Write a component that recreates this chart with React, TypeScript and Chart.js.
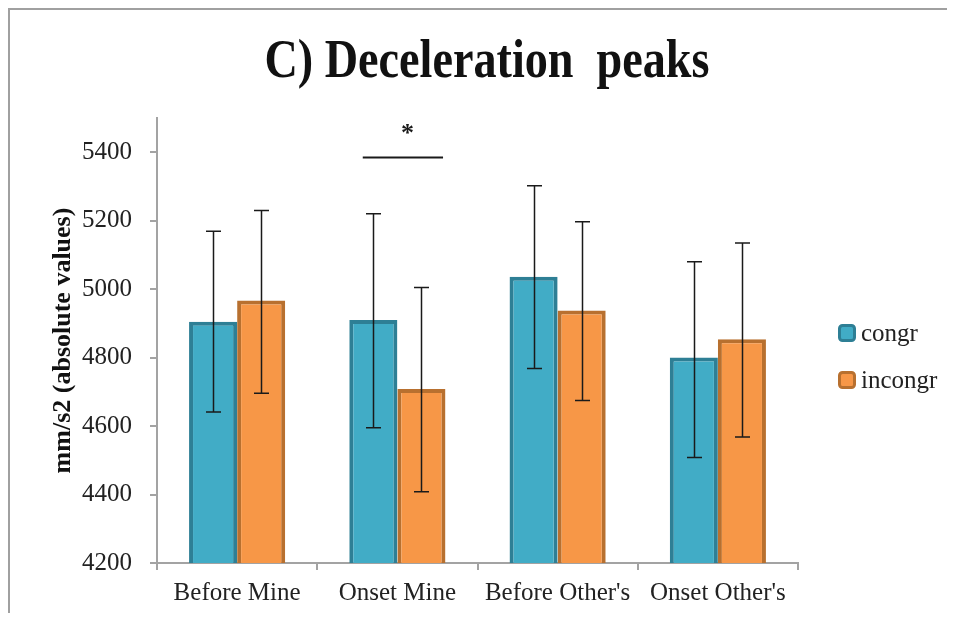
import React, { useEffect, useRef } from "react";
import { Chart, registerables } from "chart.js";

Chart.register(...registerables);

// ---------- data ----------
const categories = ["Before Mine", "Onset Mine", "Before Other's", "Onset Other's"];
const seriesNames = ["congr", "incongr"];
const congrValues = [4905, 4910, 5036, 4800];
const incongrValues = [4967, 4708, 4938, 4854];
const congrLow = [4641, 4595, 4768, 4508];
const congrHigh = [5169, 5220, 5302, 5080];
const incongrLow = [4696, 4408, 4675, 4568];
const incongrHigh = [5230, 5005, 5197, 5135];
const yTicks = [4200, 4400, 4600, 4800, 5000, 5200, 5400];
const yMin = 4200;
const yMax = 5500;
const titleText = "C) Deceleration  peaks";
const yAxisTitle = "mm/s2 (absolute values)";
const sigCategoryIndex = 1;
const sigLineValue = 5385;
const sigMarkValue = 5470;
const sigMark = "*";

// ---------- styles ----------
const SERIF = "'Liberation Serif', 'Times New Roman', serif";
const TEXT = "#222222";
const AXIS = "#a3a3a3";
const congrFill = "#41acc6";
const congrBorder = "#2e7f95";
const incongrFill = "#f79747";
const incongrBorder = "#b8702f";

const errLows = [congrLow, incongrLow];
const errHighs = [congrHigh, incongrHigh];

const framePlugin = {
  id: "frame",
  beforeDraw(chart: any) {
    const { ctx, width, height } = chart;
    ctx.save();
    ctx.fillStyle = "#ffffff";
    ctx.fillRect(0, 0, width, height);
    ctx.fillStyle = "#a0a0a0";
    ctx.fillRect(0, 0, width, 2);
    ctx.fillRect(0, 0, 2, height);
    ctx.restore();
  },
};

const titlePlugin = {
  id: "condensedTitle",
  afterDraw(chart: any) {
    const { ctx } = chart;
    ctx.save();
    ctx.font = "bold 54px " + SERIF;
    const w = ctx.measureText(titleText).width;
    const sx = 445 / w;
    ctx.translate(479, 69);
    ctx.scale(sx, 1);
    ctx.fillStyle = "#111111";
    ctx.textAlign = "center";
    ctx.textBaseline = "alphabetic";
    ctx.fillText(titleText, 0, 0);
    ctx.restore();
  },
};

const errorBarPlugin = {
  id: "errorBars",
  afterDatasetsDraw(chart: any) {
    const { ctx } = chart;
    const yScale = chart.scales.y;
    ctx.save();
    ctx.strokeStyle = "#1a1a1a";
    ctx.lineWidth = 1.5;
    chart.data.datasets.forEach((_ds: any, di: number) => {
      const meta = chart.getDatasetMeta(di);
      meta.data.forEach((bar: any, i: number) => {
        const x = Math.round(bar.x) + 0.5;
        const yH = yScale.getPixelForValue(errHighs[di][i]);
        const yL = yScale.getPixelForValue(errLows[di][i]);
        const cap = 7.5;
        ctx.beginPath();
        ctx.moveTo(x, yH);
        ctx.lineTo(x, yL);
        ctx.moveTo(x - cap, yH);
        ctx.lineTo(x + cap, yH);
        ctx.moveTo(x - cap, yL);
        ctx.lineTo(x + cap, yL);
        ctx.stroke();
      });
    });
    ctx.restore();
  },
};

const sigPlugin = {
  id: "significance",
  afterDatasetsDraw(chart: any) {
    const { ctx } = chart;
    const yScale = chart.scales.y;
    const b0 = chart.getDatasetMeta(0).data[sigCategoryIndex];
    const b1 = chart.getDatasetMeta(1).data[sigCategoryIndex];
    const x0 = b0.x - b0.width * 0.22;
    const x1 = b1.x + b1.width * 0.45;
    const y = Math.round(yScale.getPixelForValue(sigLineValue)) + 0.5;
    ctx.save();
    ctx.strokeStyle = "#1a1a1a";
    ctx.lineWidth = 2;
    ctx.beginPath();
    ctx.moveTo(x0, y);
    ctx.lineTo(x1, y);
    ctx.stroke();
    ctx.fillStyle = "#1a1a1a";
    ctx.font = "bold 26px " + SERIF;
    ctx.textAlign = "center";
    ctx.textBaseline = "middle";
    ctx.fillText(sigMark, (b0.x + b1.x) / 2 + 10, yScale.getPixelForValue(sigMarkValue) + 6);
    ctx.restore();
  },
};

const legendPlugin = {
  id: "sideLegend",
  afterDraw(chart: any) {
    const { ctx, chartArea } = chart;
    const boxX = chartArea.right + 40;
    const cy = (chartArea.top + chartArea.bottom) / 2;
    ctx.save();
    chart.data.datasets.forEach((ds: any, i: number) => {
      const yc = cy - 7.5 + i * 47;
      const s = 18;
      ctx.beginPath();
      const r = 3;
      const x = boxX + 1.5;
      const y = yc - s / 2 + 1.5;
      const w = s - 3;
      ctx.roundRect(x, y, w, w, r);
      ctx.fillStyle = ds.backgroundColor;
      ctx.fill();
      ctx.lineWidth = 3;
      ctx.strokeStyle = ds.borderColor;
      ctx.stroke();
      ctx.fillStyle = TEXT;
      ctx.font = "25px " + SERIF;
      ctx.textAlign = "left";
      ctx.textBaseline = "middle";
      ctx.fillText(ds.label, boxX + s + 5, yc + 1);
    });
    ctx.restore();
  },
};

export default function App() {
  const ref = useRef<HTMLCanvasElement | null>(null);

  useEffect(() => {
    if (!ref.current) return;
    const chart = new Chart(ref.current, {
      type: "bar",
      data: {
        labels: categories,
        datasets: [
          {
            label: seriesNames[0],
            data: congrValues,
            backgroundColor: congrFill,
            borderColor: congrBorder,
            borderWidth: 4,
            borderSkipped: false,
            categoryPercentage: 0.6,
            barPercentage: 1.0,
          },
          {
            label: seriesNames[1],
            data: incongrValues,
            backgroundColor: incongrFill,
            borderColor: incongrBorder,
            borderWidth: 4,
            borderSkipped: false,
            categoryPercentage: 0.6,
            barPercentage: 1.0,
          },
        ],
      },
      options: {
        animation: false,
        responsive: false,
        maintainAspectRatio: false,
        layout: { padding: { top: 110, right: 149, bottom: 0, left: 0 } },
        plugins: {
          legend: { display: false },
          title: { display: false },
          tooltip: { enabled: false },
        },
        scales: {
          x: {
            grid: {
              display: true,
              drawOnChartArea: false,
              drawTicks: true,
              tickLength: 7,
              color: AXIS,
              lineWidth: 2,
              offset: true,
            },
            border: { display: true, color: AXIS, width: 2 },
            ticks: {
              color: TEXT,
              font: { family: SERIF, size: 25 },
              padding: 8,
              maxRotation: 0,
              autoSkip: false,
            },
            afterFit: (s: any) => {
              s.height = 50;
            },
          },
          y: {
            min: yMin,
            max: yMax,
            afterBuildTicks: (s: any) => {
              s.ticks = yTicks.map((v) => ({ value: v }));
            },
            grid: {
              display: true,
              drawOnChartArea: false,
              drawTicks: true,
              tickLength: 7,
              color: AXIS,
              lineWidth: 2,
            },
            border: { display: true, color: AXIS, width: 2 },
            ticks: {
              color: TEXT,
              font: { family: SERIF, size: 25 },
              padding: 18,
              callback: (v: any) => String(v),
            },
            title: {
              display: true,
              text: yAxisTitle,
              color: "#111111",
              font: { family: SERIF, size: 26, weight: "bold" },
              padding: { top: 40, bottom: 0 },
            },
            afterFit: (s: any) => {
              s.width = 149;
            },
          },
        },
      },
      plugins: [framePlugin, errorBarPlugin, sigPlugin, titlePlugin, legendPlugin],
    } as any);
    return () => chart.destroy();
  }, []);

  return (
    <div style={{ width: 939, height: 605 }}>
      <canvas ref={ref} width={939} height={605} style={{ display: "block", width: 939, height: 605 }} />
    </div>
  );
}
